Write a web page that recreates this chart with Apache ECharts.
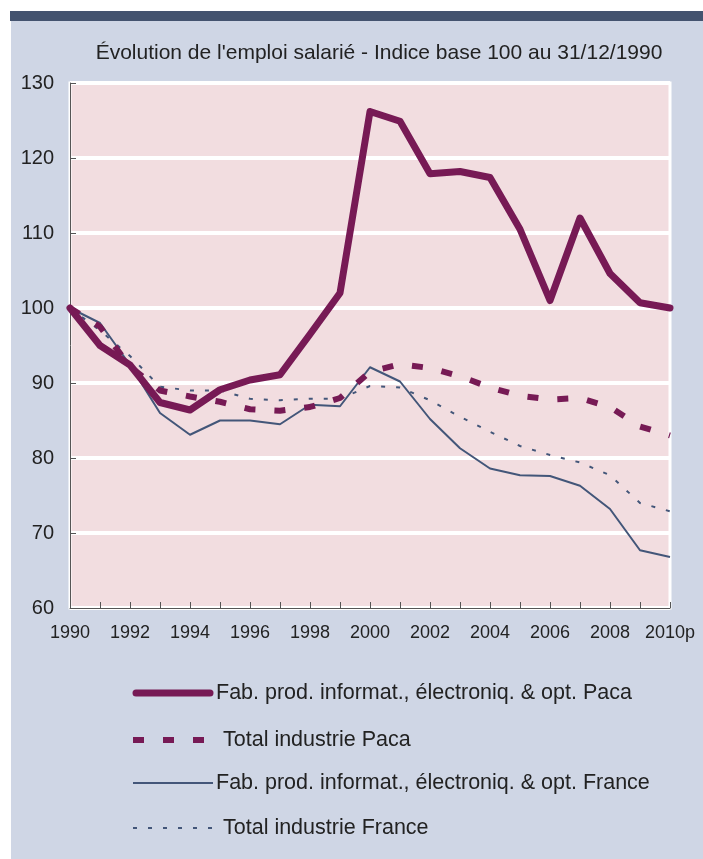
<!DOCTYPE html>
<html>
<head>
<meta charset="utf-8">
<script src="https://cdn.jsdelivr.net/npm/echarts@6/dist/echarts.min.js"></script>
<style>
  html, body { margin: 0; padding: 0; background: #fff; }
  #chart { width: 703px; height: 859px; }
</style>
</head>
<body>
<div id="chart"></div>
<script>
// années (2010 provisoire)
const years = ['1990', '1991', '1992', '1993', '1994', '1995', '1996', '1997', '1998', '1999',
    '2000', '2001', '2002', '2003', '2004', '2005', '2006', '2007', '2008', '2009', '2010p'];

// indice base 100 au 31/12/1990
const infoPaca = [100, 95.0, 92.4, 87.4, 86.4, 89.1, 90.4, 91.1, 96.5, 102.0,
    126.2, 124.9, 117.9, 118.2, 117.4, 110.5, 101.0, 112.0, 104.6, 100.7, 100.0];
const industriePaca = [100, 97.5, 92.2, 89.0, 88.2, 87.5, 86.5, 86.3, 86.8, 88.0,
    91.5, 92.5, 92.0, 90.9, 89.4, 88.3, 87.8, 88.0, 86.8, 84.2, 83.0];
const infoFrance = [100, 98.0, 92.4, 86.0, 83.1, 85.0, 85.0, 84.5, 87.1, 86.9,
    92.1, 90.2, 85.2, 81.3, 78.6, 77.7, 77.6, 76.3, 73.2, 67.7, 66.8];
const industrieFrance = [100, 97.0, 93.6, 89.5, 89.0, 89.0, 87.9, 87.7, 87.9, 87.9,
    89.6, 89.4, 87.7, 85.5, 83.5, 81.6, 80.4, 79.4, 77.7, 74.0, 72.9];

const seriesNames = [
    'Fab. prod. informat., électroniq. & opt. Paca',
    'Total industrie Paca',
    'Fab. prod. informat., électroniq. & opt. France',
    'Total industrie France'
];

const purple = '#771a55';
const navy = '#435679';

const styles = [
    { color: purple, width: 7, type: 'solid', cap: 'round' },
    { color: purple, width: 6, type: [11, 19], cap: 'butt' },
    { color: navy, width: 2, type: 'solid', cap: 'butt' },
    { color: navy, width: 2, type: [4, 11], cap: 'butt' }
];

// légende dessinée à la main (trait + libellé)
const legendRows = [693, 740, 783, 828];
const legendTextX = [216, 223, 216, 223];
const legendGraphics = [];
seriesNames.forEach((name, i) => {
    const s = styles[i];
    legendGraphics.push({
        type: 'line',
        silent: true,
        shape: { x1: i === 0 ? 136 : 133, y1: legendRows[i], x2: i === 0 ? 210 : 213, y2: legendRows[i] },
        style: { stroke: s.color, lineWidth: s.width, lineDash: Array.isArray(s.type) ? s.type : null, lineCap: s.cap }
    });
    legendGraphics.push({
        type: 'text',
        silent: true,
        x: legendTextX[i],
        y: legendRows[i],
        style: {
            text: name,
            fill: '#222',
            font: '21.5px "Liberation Sans", Arial, sans-serif',
            verticalAlign: 'middle'
        }
    });
});

const myChart = echarts.init(document.getElementById('chart'));

const option = {
    backgroundColor: '#ffffff',
    animation: false,
    textStyle: {
        fontFamily: 'Liberation Sans, Arial, sans-serif'
    },
    graphic: [
        {
            type: 'rect',
            z: -10,
            silent: true,
            shape: { x: 10, y: 11, width: 693, height: 10 },
            style: { fill: '#44536f' }
        },
        {
            type: 'rect',
            z: -10,
            silent: true,
            shape: { x: 11, y: 21, width: 692, height: 838 },
            style: { fill: '#cfd6e5' }
        }
    ].concat(legendGraphics),
    title: {
        text: "Évolution de l'emploi salarié - Indice base 100 au 31/12/1990",
        left: 374,
        top: 38,
        textAlign: 'center',
        textStyle: {
            fontSize: 21,
            fontWeight: 'normal',
            color: '#222'
        }
    },
    grid: {
        left: 70,
        right: 33,
        top: 83,
        bottom: 251,
        show: true,
        backgroundColor: '#f2dde0',
        borderColor: '#ffffff',
        borderWidth: 3
    },
    xAxis: {
        type: 'category',
        data: years,
        boundaryGap: false,
        axisLine: {
            lineStyle: { color: '#555', width: 1 }
        },
        axisTick: {
            inside: true,
            length: 6,
            interval: 0,
            lineStyle: { color: '#555' }
        },
        axisLabel: {
            interval: 1,
            margin: 16,
            fontSize: 18,
            color: '#222'
        },
        splitLine: { show: false }
    },
    yAxis: {
        type: 'value',
        min: 60,
        max: 130,
        interval: 10,
        axisLine: {
            show: true,
            lineStyle: { color: '#555', width: 1 }
        },
        axisTick: {
            show: true,
            inside: true,
            length: 6,
            lineStyle: { color: '#555' }
        },
        axisLabel: {
            margin: 16,
            fontSize: 20,
            color: '#222'
        },
        splitLine: {
            lineStyle: { color: '#ffffff', width: 4 }
        }
    },
    series: [infoPaca, industriePaca, infoFrance, industrieFrance].map((data, i) => ({
        name: seriesNames[i],
        type: 'line',
        data: data,
        symbol: 'none',
        z: 5 - i,
        itemStyle: { color: styles[i].color },
        lineStyle: {
            color: styles[i].color,
            width: styles[i].width,
            type: styles[i].type,
            cap: i === 0 ? 'round' : 'butt',
            join: 'round'
        }
    }))
};

myChart.setOption(option);
</script>
</body>
</html>
